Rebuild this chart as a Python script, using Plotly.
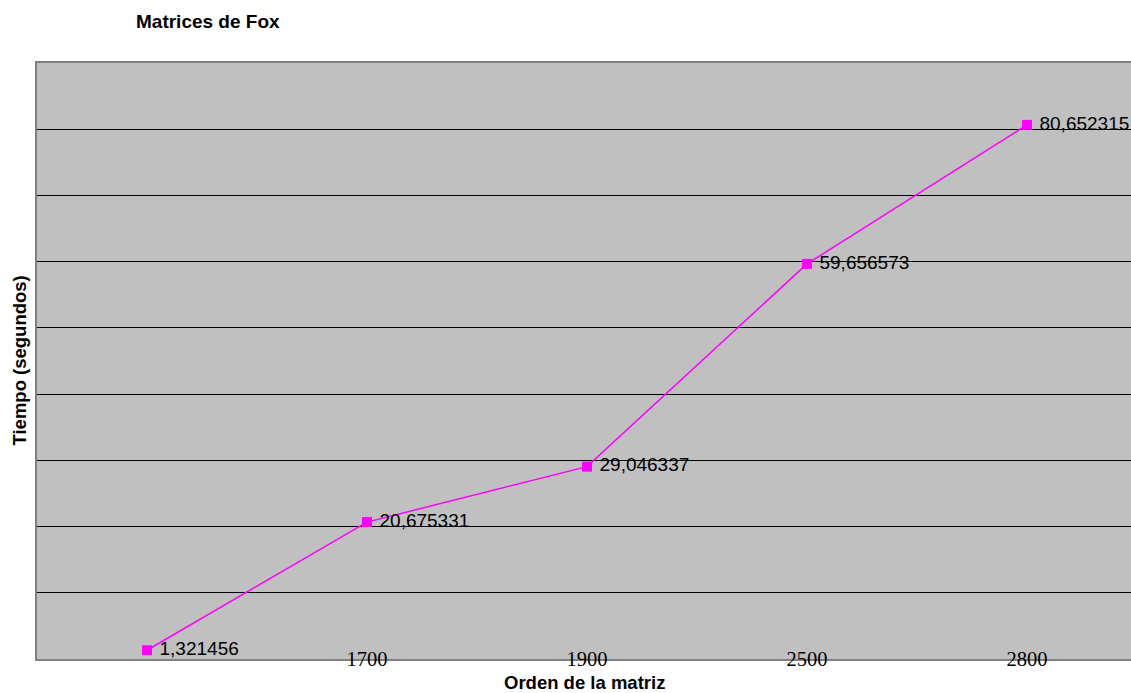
import plotly.graph_objects as go

# Orden de la matriz (the first run has no printed label on the axis)
orden = ["", "1700", "1900", "2500", "2800"]
# Tiempo de ejecución en segundos
tiempo = [1.321456, 20.675331, 29.046337, 59.656573, 80.652315]
etiquetas = ["1,321456", "20,675331", "29,046337", "59,656573", "80,652315"]

pos = list(range(len(orden)))

fig = go.Figure()
fig.add_trace(go.Scatter(
    x=pos,
    y=tiempo,
    mode="lines+markers+text",
    line=dict(color="#FF00FF", width=1.5),
    marker=dict(symbol="square", size=10, color="#FF00FF"),
    text=["\u00a0" + e for e in etiquetas],
    textposition="middle right",
    textfont=dict(family="Liberation Sans, Arial, sans-serif", size=19, color="#000000"),
    cliponaxis=False,
    showlegend=False,
    hoverinfo="skip",
))

fig.update_layout(
    width=1131,
    height=693,
    margin=dict(l=37, r=0, t=63, b=34),
    paper_bgcolor="#FFFFFF",
    plot_bgcolor="#C0C0C0",
    title=dict(
        text="<b>Matrices de Fox</b>",
        x=136 / 1131, xanchor="left", xref="container",
        y=1 - 21 / 693, yanchor="middle", yref="container",
        font=dict(family="Liberation Sans, Arial, sans-serif", size=19, color="#000000"),
    ),
    xaxis=dict(
        range=[-0.5, 4.473],
        tickmode="array",
        tickvals=pos,
        ticktext=orden,
        ticks="",
        showgrid=False,
        zeroline=False,
        showline=True,
        linecolor="#808080",
        linewidth=1.5,
        mirror=True,
        ticklabelstandoff=-19,
        tickfont=dict(family="Liberation Serif, Times New Roman, serif", size=20.5, color="#000000"),
        automargin=False,
    ),
    yaxis=dict(
        range=[0, 90],
        dtick=10,
        showticklabels=False,
        ticks="",
        showgrid=True,
        gridcolor="#000000",
        gridwidth=1,
        zeroline=False,
        showline=True,
        linecolor="#808080",
        linewidth=1.5,
        automargin=False,
    ),
    annotations=[
        dict(
            text="<b>Orden de la matriz</b>",
            xref="paper", yref="paper",
            x=0.5, y=-23 / 596,
            xanchor="center", yanchor="middle",
            showarrow=False,
            font=dict(family="Liberation Sans, Arial, sans-serif", size=18.5, color="#000000"),
        ),
        dict(
            text="<b>Tiempo (segundos)</b>",
            xref="paper", yref="paper",
            x=(18.5 - 37) / 1094, y=0.5,
            xanchor="center", yanchor="middle",
            textangle=-90,
            showarrow=False,
            font=dict(family="Liberation Sans, Arial, sans-serif", size=18.5, color="#000000"),
        ),
    ],
)

fig.write_html("out.html")
